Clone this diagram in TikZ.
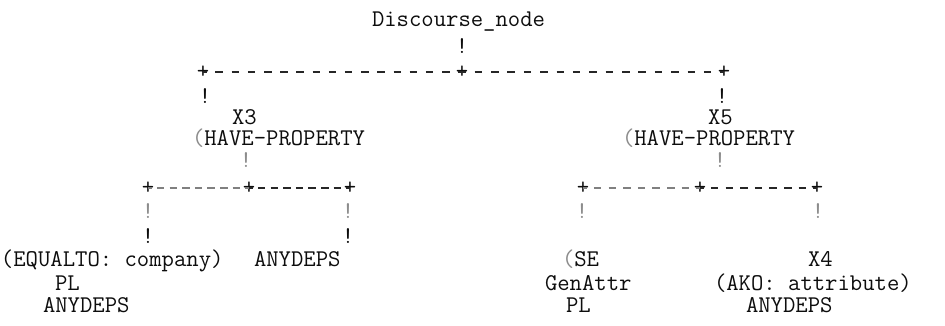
\documentclass[tikz,border=0pt]{standalone}
\usepackage{fontspec}
\begin{document}
\begin{tikzpicture}[x=1pt,y=1pt,
  txt/.style={font=\ttfamily\frenchspacing\fontsize{24}{24}\selectfont, inner sep=0pt, outer sep=0pt, anchor=base west, text=black!95},
  glyph/.style={txt, anchor=center},
  faint/.style={glyph, text=black!45},
  dsh/.style={draw=black!85, line width=1.2pt, dash pattern=on 7.5pt off #1pt, dash phase=3.75pt},
  dshf/.style={dsh=#1, draw=black!50}]
\fill[white] (0,0) rectangle (945,-326);
\useasboundingbox (0,0) rectangle (945,-326);
% root
\node[txt] (root) at (372,-27) {Discourse\_node};
\node[glyph] (b1) at (462,-46) {!};
% top branch line
\node[glyph] (tl) at (203,-72) {+};
\node[glyph] (tm) at (462,-72) {+};
\node[glyph] (tr) at (724,-72) {+};
\draw[dsh=8.69] (tl.center) -- (tm.center);
\draw[dsh=8.88] (tm.center) -- (tr.center);
\node[glyph] (b3l) at (205,-96) {!};
\node[glyph] (b3r) at (722,-96) {!};
% X3 / X5
\node[txt] (x3) at (232,-124.3) {X3};
\node[txt] (x5) at (708,-124.3) {X5};
\node[txt] (hp3) at (192,-145.3) {{\color{black!45}(}HAVE-PROPERTY};
\node[txt] (hp5) at (622,-145.3) {{\color{black!45}(}HAVE-PROPERTY};
\node[faint] (b6l) at (246,-160) {!};
\node[faint] (b6r) at (720,-160) {!};
% left sub branch
\node[glyph] (ll) at (148,-188) {+};
\node[glyph] (lm) at (249,-188) {+};
\node[glyph] (lr) at (350,-188) {+};
\draw[dshf=5.13] (ll.center) -- (lm.center);
\draw[dsh=5.13] (lm.center) -- (lr.center);
% right sub branch
\node[glyph] (rl) at (583,-188) {+};
\node[glyph] (rm) at (700,-188) {+};
\node[glyph] (rr) at (817,-188) {+};
\draw[dshf=7.13] (rl.center) -- (rm.center);
\draw[dsh=7.13] (rm.center) -- (rr.center);
\node[faint] (b8a) at (148,-211) {!};
\node[faint] (b8b) at (348,-211) {!};
\node[faint] (b8c) at (582,-211) {!};
\node[faint] (b8d) at (818,-211) {!};
\node[glyph] (b9a) at (148,-236) {!};
\node[glyph] (b9b) at (348,-236) {!};
% leaves
\node[txt] (eq) at (1,-266.3) {(EQUALTO: company)};
\node[txt] (any1) at (254,-266.3) {ANYDEPS};
\node[txt] (se) at (562,-266.3) {{\color{black!45}(}SE};
\node[txt] (x4) at (808,-266.3) {X4};
\node[txt] (pl1) at (55,-290.3) {PL};
\node[txt] (gen) at (545,-290.3) {GenAttr};
\node[txt] (ako) at (714,-290.3) {(AKO: attribute)};
\node[txt] (any2) at (43,-312.3) {ANYDEPS};
\node[txt] (pl2) at (566,-312.3) {PL};
\node[txt] (any3) at (746,-312.3) {ANYDEPS};
\end{tikzpicture}
\end{document}
